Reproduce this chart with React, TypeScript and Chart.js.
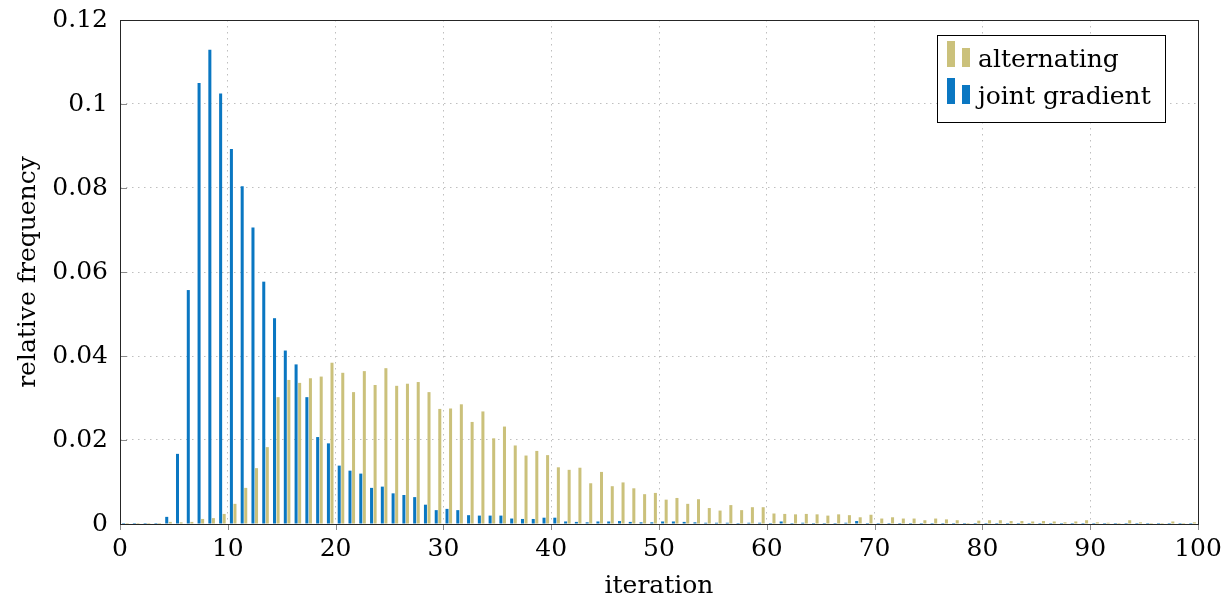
import React, { useEffect, useRef } from "react";
import { Chart, registerables } from "chart.js";

Chart.register(...registerables);

// Histogram bins (iteration count), one bin per integer iteration
const iterations = Array.from({ length: 100 }, (_, i) => i);

const alternating = [
  0, 0, 0, 0, 0.0005, 0.0004, 0.0005, 0.0012, 0.0014, 0.0024,
  0.0048, 0.0086, 0.0133, 0.0183, 0.0302, 0.0343, 0.0336, 0.0347, 0.0351, 0.0384,
  0.036, 0.0314, 0.0364, 0.0331, 0.0371, 0.0329, 0.0334, 0.0338, 0.0314, 0.0274,
  0.0275, 0.0285, 0.0243, 0.0268, 0.0204, 0.0232, 0.0187, 0.0163, 0.0174, 0.0164,
  0.0135, 0.0129, 0.0134, 0.0097, 0.0124, 0.009, 0.0099, 0.0085, 0.0071, 0.0074,
  0.0058, 0.0062, 0.0048, 0.0059, 0.0038, 0.0032, 0.0045, 0.0033, 0.004, 0.004,
  0.0025, 0.0024, 0.0023, 0.0024, 0.0023, 0.002, 0.0023, 0.0021, 0.0016, 0.0022,
  0.0013, 0.0016, 0.0013, 0.0013, 0.0009, 0.0013, 0.0011, 0.0009, 0.0002, 0.0008,
  0.0009, 0.0009, 0.0007, 0.0007, 0.0006, 0.0007, 0.0006, 0.0004, 0.0006, 0.0009,
  0.0004, 0.0003, 0.0002, 0.0009, 0.0004, 0.0002, 0.0002, 0.0006, 0.0002, 0.0004,
];

const jointGradient = [
  0, 0, 0, 0, 0.0017, 0.0167, 0.0557, 0.105, 0.1129, 0.1025,
  0.0893, 0.0804, 0.0706, 0.0577, 0.049, 0.0413, 0.038, 0.0302, 0.0207, 0.0192,
  0.0139, 0.0127, 0.012, 0.0086, 0.0089, 0.0073, 0.0069, 0.0064, 0.0046, 0.0033,
  0.0036, 0.0033, 0.0021, 0.002, 0.002, 0.002, 0.0013, 0.0012, 0.0012, 0.0015,
  0.0015, 0.0006, 0.0005, 0.0004, 0.0006, 0.0006, 0.0007, 0.0005, 0.0004, 0.0004,
  0.0006, 0.0006, 0.0005, 0.0004, 0.0003, 0.0003, 0.0003, 0.0002, 0.0003, 0.0003,
  0.0002, 0.0006, 0.0002, 0.0003, 0.0002, 0.0002, 0.0002, 0.0003, 0.0007, 0.0002,
  0.0002, 0.0001, 0.0001, 0.0001, 0.0001, 0.0001, 0.0001, 0.0001, 0.0001, 0.0001,
  0, 0, 0, 0, 0, 0, 0, 0, 0, 0,
  0, 0, 0, 0, 0, 0, 0, 0, 0, 0,
];

const xTicks = [0, 10, 20, 30, 40, 50, 60, 70, 80, 90, 100];
const yTicks = [0, 0.02, 0.04, 0.06, 0.08, 0.1, 0.12];
const seriesNames = ["alternating", "joint gradient"];
const xTitle = "iteration";
const yTitle = "relative frequency";

const FONT_FAMILY = "'DejaVu Serif', serif";
const FONT_SIZE = 25;
const BLUE = "#0a77c2";
const KHAKI = "#cbc17b";

export default function App() {
  const canvasRef = useRef<HTMLCanvasElement | null>(null);

  useEffect(() => {
    const canvas = canvasRef.current;
    if (!canvas) return;

    const framePlugin = {
      id: "frameAndLegend",
      afterDatasetsDraw(chart: any) {
        const { ctx, chartArea: a, scales } = chart;
        const xs = scales.x;
        const ys = scales.y;
        ctx.save();
        // tick marks
        ctx.strokeStyle = "#8a8a8a";
        ctx.lineWidth = 1;
        ctx.beginPath();
        xTicks.forEach((v) => {
          const px = Math.round(xs.getPixelForValue(v)) + 0.5;
          ctx.moveTo(px, a.bottom);
          ctx.lineTo(px, a.bottom + 6);
        });
        yTicks.forEach((v) => {
          const py = Math.round(ys.getPixelForValue(v)) + 0.5;
          ctx.moveTo(a.left, py);
          ctx.lineTo(a.left + 7, py);
        });
        ctx.stroke();
        // frame
        ctx.strokeStyle = "#262626";
        ctx.lineWidth = 1;
        ctx.strokeRect(
          Math.round(a.left) + 0.5,
          Math.round(a.top) + 0.5,
          Math.round(a.right - a.left),
          Math.round(a.bottom - a.top)
        );

        // legend
        ctx.font = `${FONT_SIZE}px ${FONT_FAMILY}`;
        const maxText = Math.max(...seriesNames.map((s) => ctx.measureText(s).width));
        const boxW = Math.round(41 + maxText + 14);
        const boxH = 87;
        const boxRight = Math.round(a.right) - 33;
        const boxLeft = boxRight - boxW;
        const boxTop = Math.round(a.top) + 15;
        ctx.fillStyle = "#ffffff";
        ctx.fillRect(boxLeft, boxTop, boxW, boxH);
        ctx.strokeStyle = "#000000";
        ctx.strokeRect(boxLeft + 0.5, boxTop + 0.5, boxW, boxH);
        const colors = [KHAKI, BLUE];
        const baselines = [boxTop + 32, boxTop + 69];
        seriesNames.forEach((name, i) => {
          const bl = baselines[i];
          ctx.fillStyle = colors[i];
          ctx.fillRect(boxLeft + 10, bl - 26, 8, 26);
          ctx.fillRect(boxLeft + 25, bl - 19, 8, 19);
          ctx.fillStyle = "#000000";
          ctx.textBaseline = "alphabetic";
          ctx.textAlign = "left";
          ctx.fillText(name, boxLeft + 41, bl);
        });
        ctx.restore();
      },
    };

    const font = { family: FONT_FAMILY, size: FONT_SIZE };

    const chart = new Chart(canvas, {
      type: "bar",
      data: {
        datasets: [
          {
            label: seriesNames[1],
            data: iterations.map((it, i) => ({ x: it + 0.5, y: jointGradient[i] })),
            backgroundColor: BLUE,
            borderWidth: 0,
          },
          {
            label: seriesNames[0],
            data: iterations.map((it, i) => ({ x: it + 0.5, y: alternating[i] })),
            backgroundColor: KHAKI,
            borderWidth: 0,
          },
        ],
      },
      options: {
        animation: false,
        responsive: false,
        devicePixelRatio: 1,
        layout: { padding: { top: 20, right: 32, left: 0, bottom: 0 } },
        plugins: {
          legend: { display: false },
          tooltip: { enabled: false },
        },
        datasets: {
          bar: {
            categoryPercentage: 0.66,
            barPercentage: 0.85,
            minBarLength: 1,
          },
        },
        scales: {
          x: {
            type: "linear",
            min: 0,
            max: 100,
            offset: false,
            grid: {
              offset: false,
              color: "rgba(0,0,0,0.25)",
              lineWidth: 1,
              drawTicks: false,
            },
            border: { display: false, dash: [1.5, 4.5] },
            ticks: {
              stepSize: 10,
              padding: 10,
              color: "#000",
              font,
              maxRotation: 0,
              autoSkip: false,
            },
            title: {
              display: true,
              text: xTitle,
              color: "#000",
              font,
              padding: { top: 0, bottom: 2 },
            },
            afterFit(scale: any) {
              scale.height = 79;
              scale.paddingLeft = 0;
              scale.paddingRight = 0;
            },
          },
          y: {
            type: "linear",
            min: 0,
            max: 0.12,
            grid: {
              color: "rgba(0,0,0,0.25)",
              lineWidth: 1,
              drawTicks: false,
            },
            border: { display: false, dash: [1.5, 4.5] },
            ticks: {
              stepSize: 0.02,
              padding: 12,
              color: "#000",
              font,
              callback: (v: any) => String(Number(Number(v).toFixed(2))),
            },
            title: {
              display: true,
              text: yTitle,
              color: "#000",
              font,
              padding: { top: 13, bottom: 0 },
            },
            afterFit(scale: any) {
              scale.width = 120;
              scale.paddingTop = 0;
              scale.paddingBottom = 0;
            },
          },
        },
      },
      plugins: [framePlugin],
    } as any);

    return () => chart.destroy();
  }, []);

  return (
    <div
      style={{
        position: "absolute",
        left: 0,
        top: 0,
        width: 1230,
        height: 603,
        background: "#ffffff",
      }}
    >
      <canvas ref={canvasRef} width={1230} height={603} style={{ display: "block" }} />
    </div>
  );
}
